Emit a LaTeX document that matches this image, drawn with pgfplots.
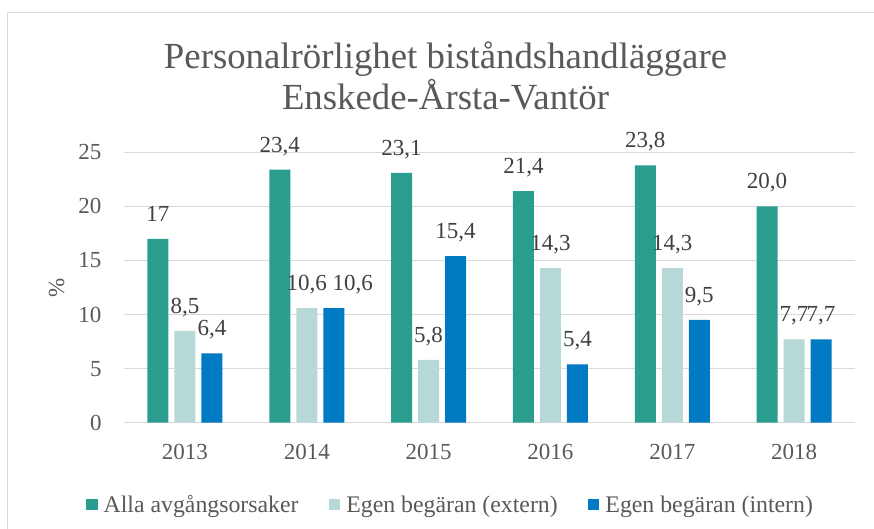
\documentclass[border=0pt]{standalone}
\usepackage{fontspec}
\setmainfont{Liberation Serif}
\usepackage{pgfplots}
\usepackage{pgfplotstable}
\pgfplotsset{compat=1.18}
\definecolor{cA}{HTML}{2A9D8F}
\definecolor{cB}{HTML}{B6D8D6}
\definecolor{cC}{HTML}{007AC2}
\definecolor{txt}{HTML}{595959}
\definecolor{lbl}{HTML}{404040}
\definecolor{grd}{HTML}{D9D9D9}
\pgfplotstableread{
x y lab
0 17 17
1 23.4 23,4
2 23.1 23,1
3 21.4 21,4
4 23.8 23,8
5 20.0 20,0
}\alla
\pgfplotstableread{
x y lab
0 8.5 8,5
1 10.6 10,6
2 5.8 5,8
3 14.3 14,3
4 14.3 14,3
5 7.7 7,7
}\extern
\pgfplotstableread{
x y lab
0 6.4 6,4
1 10.6 \hspace*{38pt}10,6
2 15.4 15,4
3 5.4 5,4
4 9.5 9,5
5 7.7 7,7
}\intern
\pgfplotsset{sq legend/.style={legend image code/.code={\fill[##1] (0pt,-5.3pt) rectangle (11.7pt,5.3pt);}}}
\begin{document}
\begin{tikzpicture}
\useasboundingbox (0pt,0pt) rectangle (874pt,529pt);
\draw[grd, line width=1pt] (7.3pt,0pt) -- (7.3pt,516pt) -- (880pt,516pt);
\node[txt, anchor=base, font=\fontsize{36.8}{44}\selectfont, inner sep=0pt] at (445.5pt,460.7pt) {Personalrörlighet biståndshandläggare};
\node[txt, anchor=base, font=\fontsize{36.8}{44}\selectfont, inner sep=0pt] at (445.5pt,419pt) {Enskede-Årsta-Vantör};
\begin{axis}[
  at={(124pt,106.3pt)}, anchor=south west,
  width=731pt, height=270.4pt, scale only axis,
  ybar=6pt, bar width=21pt,
  xmin=-0.5, xmax=5.5, ymin=0, ymax=25,
  xtick={0,1,2,3,4,5}, xticklabels={2013,2014,2015,2016,2017,2018},
  ytick={0,5,10,15,20,25},
  axis line style={draw=none},
  major tick length=0pt,
  ymajorgrids, grid style={grd, line width=1.3pt},
  /pgf/number format/assume math mode=true,
  tick label style={txt, font=\fontsize{23}{27}\selectfont},
  xticklabel style={anchor=base, yshift=-37.3pt, inner sep=0pt},
  yticklabel style={anchor=east, inner sep=0pt, xshift=-22.3pt},
  ylabel={\%},
  every axis y label/.style={at={(axis description cs:-0.0921,0.5)}, anchor=center, rotate=90, txt, font=\fontsize{23}{27}\selectfont},
  point meta=explicit symbolic,
  nodes near coords,
  nodes near coords align={anchor=base},
  every node near coord/.append style={lbl, font=\fontsize{23}{27}\selectfont, inner sep=0pt, yshift=17.5pt},
  legend columns=3,
  legend style={at={(axis description cs:0.4466,-0.303)}, anchor=center, draw=none, fill=none, inner sep=0pt, text=txt, font=\fontsize{23.8}{28}\selectfont,
    /tikz/every even column/.append style={column sep=28pt},
    /tikz/every odd column/.append style={column sep=4pt}},
]
\addplot[fill=cA, draw=none, sq legend] table[x=x, y=y, meta=lab] {\alla};
\addplot[fill=cB, draw=none, sq legend] table[x=x, y=y, meta=lab] {\extern};
\addplot[fill=cC, draw=none, sq legend] table[x=x, y=y, meta=lab] {\intern};
\legend{Alla avgångsorsaker, Egen begäran (extern), Egen begäran (intern)}
\end{axis}
\end{tikzpicture}
\end{document}
